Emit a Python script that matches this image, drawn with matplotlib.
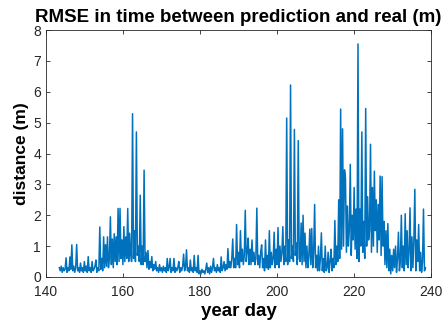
import numpy as np
import matplotlib
matplotlib.use("Agg")
import matplotlib.pyplot as plt

# RMSE values, sampled every 0.25 day starting at day 143.5
start_day = 143.5
step = 0.25
rmse_a = [  # 143.5 - 166.75
    0.3, 0.2,
    0.35, 0.15, 0.3, 0.2,
    0.25, 0.62, 0.15, 0.3,
    0.2, 0.65, 0.25, 1.04,
    0.2, 0.35, 0.15, 0.3,
    1.05, 0.2, 0.3, 0.15,
    0.45, 0.2, 0.3, 0.15,
    0.5, 0.2, 0.35, 0.15,
    0.66, 0.2, 0.3, 0.15,
    0.5, 0.2, 0.25, 0.35,
    0.55, 0.15, 0.3, 0.2,
    1.62, 0.25, 0.6, 0.2,
    1.3, 0.3, 1.05, 0.35,
    1.3, 0.3, 0.6, 1.95,
    0.4, 1.23, 0.3, 1.4,
    0.5, 1.3, 0.4, 2.22,
    0.5, 2.22, 0.6, 1.2,
    0.4, 1.63, 0.5, 1.3,
    0.6, 2.22, 0.5, 1.42,
    0.8, 0.5, 5.29, 0.6,
    1.5, 0.5, 4.7, 0.7,
    1.0, 0.5, 2.65, 0.4,
    1.0, 0.4, 3.46, 0.5,
    0.8, 0.3, 0.86, 0.25,
]
rmse_b = [  # 167 - 201.75
    0.5, 0.3, 0.66, 0.2,
    0.4, 0.25, 0.5, 0.2,
    0.3, 0.15, 0.4, 0.2,
    0.3, 0.15, 0.35, 0.2,
    0.3, 0.15, 0.6, 0.2,
    0.3, 0.6, 0.15, 0.3,
    0.2, 0.6, 0.15, 0.3,
    0.2, 0.3, 0.5, 0.15,
    0.3, 0.2, 0.35, 0.74,
    0.2, 0.3, 0.88, 0.2,
    0.3, 0.15, 0.55, 0.2,
    0.3, 0.15, 0.7, 0.2,
    0.3, 0.15, 0.7, 0.1,
    0.2, 0.1, 0.25, 0.15,
    0.2, 0.1, 0.25, 0.45,
    0.15, 0.3, 0.1, 0.35,
    0.15, 0.3, 0.6, 0.2,
    0.3, 0.15, 0.4, 0.2,
    0.3, 0.15, 0.65, 0.2,
    0.3, 0.5, 0.2, 0.4,
    0.25, 0.92, 0.3, 0.5,
    0.3, 0.6, 1.23, 0.3,
    0.6, 0.3, 1.7, 0.4,
    0.8, 0.3, 1.5, 0.5,
    0.9, 0.4, 0.7, 2.16,
    0.5, 0.8, 1.26, 0.4,
    0.9, 0.4, 1.2, 0.5,
    0.8, 0.4, 0.6, 2.23,
    0.4, 0.7, 0.3, 0.8,
    1.04, 0.3, 0.6, 0.2,
    1.2, 0.3, 0.7, 0.25,
    1.5, 0.3, 0.8, 0.4,
    0.6, 1.45, 0.3, 0.9,
    0.4, 1.6, 0.3, 1.0,
    0.5, 0.8, 1.63, 0.4,
]
rmse_c = [  # 202 - 238.5
    1.0, 0.5, 5.15, 0.4,
    1.2, 0.5, 6.22, 0.6,
    1.0, 0.5, 4.78, 0.7,
    1.1, 0.4, 4.42, 0.6,
    0.5, 1.75, 0.4, 2.0,
    0.5, 1.42, 0.3, 1.0,
    0.3, 0.7, 1.55, 0.4,
    1.57, 0.3, 0.8, 2.35,
    0.3, 0.7, 0.2, 1.0,
    0.2, 0.6, 1.43, 0.2,
    0.6, 0.15, 1.0, 0.2,
    0.3, 0.8, 0.15, 0.5,
    0.9, 0.2, 0.6, 0.3,
    1.83, 0.4, 1.0, 0.5,
    2.5, 0.6, 5.44, 0.9,
    4.8, 1.0, 3.47, 3.2,
    0.8, 2.3, 1.0, 1.5,
    3.65, 0.7, 2.0, 1.2,
    2.9, 0.9, 2.2, 0.6,
    7.55, 0.5, 2.2, 1.0,
    4.7, 0.8, 1.8, 0.6,
    5.46, 1.0, 2.6, 1.2,
    1.5, 4.3, 0.8, 2.9,
    1.0, 3.43, 1.5, 2.5,
    0.8, 2.35, 1.2, 3.27,
    0.7, 3.25, 1.0, 1.8,
    0.4, 1.5, 0.3, 1.73,
    0.2, 0.9, 0.1, 0.7,
    0.2, 0.9, 0.3, 1.0,
    0.15, 0.6, 1.45, 0.2,
    0.5, 2.0, 0.3, 1.0,
    0.2, 2.05, 0.4, 1.5,
    0.3, 0.8, 2.24, 0.2,
    1.3, 0.3, 1.2, 2.84,
    0.2, 1.2, 0.5, 1.7,
    0.2, 0.8, 0.15, 0.5,
    2.2, 0.2, 0.3,
]
x_ticks = [140, 160, 180, 200, 220, 240]
y_ticks = [0, 1, 2, 3, 4, 5, 6, 7, 8]

values = np.array(rmse_a + rmse_b + rmse_c)
days = start_day + step * np.arange(len(values))

plt.rcParams['font.family'] = ['Liberation Sans', 'DejaVu Sans']
fig = plt.figure(figsize=(4.45, 3.27), dpi=100)
ax = fig.add_axes([0.103, 0.153, 0.866, 0.755])
ax.plot(days, values, color='#0072BD', lw=1.1)
ax.set_xlim(140, 240)
ax.set_ylim(0, 8)
ax.set_xticks(x_ticks)
ax.set_yticks(y_ticks)
gray = '#262626'
for s in ax.spines.values():
    s.set_color(gray)
    s.set_linewidth(0.6)
ax.tick_params(direction='in', top=True, right=True, length=3, width=0.6,
               colors=gray, labelsize=10, labelcolor=gray)
ax.tick_params(axis='x', pad=6)
ax.set_title('RMSE in time between prediction and real (m)', fontsize=13.5,
             fontweight='bold', pad=6)
ax.set_xlabel('year day', fontsize=13.5, fontweight='bold', labelpad=3)
ax.set_ylabel('distance (m)', fontsize=12.5, fontweight='bold', labelpad=3)
fig.savefig('out.png', dpi=100)
